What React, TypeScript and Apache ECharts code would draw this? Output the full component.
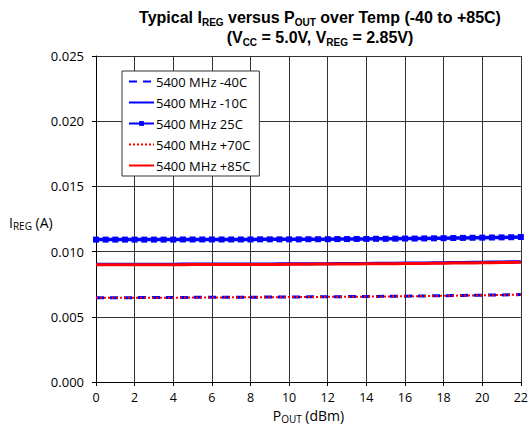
import React, { useEffect, useRef } from "react";
import * as echarts from "echarts";

const pout = [0, 0.5, 1, 1.5, 2, 2.5, 3, 3.5, 4, 4.5, 5, 5.5, 6, 6.5, 7, 7.5, 8, 8.5, 9, 9.5, 10, 10.5, 11, 11.5, 12, 12.5, 13, 13.5, 14, 14.5, 15, 15.5, 16, 16.5, 17, 17.5, 18, 18.5, 19, 19.5, 20, 20.5, 21, 21.5, 22];

const seriesNames = ["5400 MHz -40C", "5400 MHz -10C", "5400 MHz 25C", "5400 MHz +70C", "5400 MHz +85C"];

const iregM40 = [0.00647, 0.00647, 0.00647, 0.00647, 0.00647, 0.00648, 0.00648, 0.00648, 0.00648, 0.00648, 0.00649, 0.00649, 0.00649, 0.00649, 0.0065, 0.0065, 0.0065, 0.00651, 0.00651, 0.00651, 0.00652, 0.00652, 0.00653, 0.00653, 0.00654, 0.00654, 0.00655, 0.00655, 0.00656, 0.00656, 0.00657, 0.00658, 0.00658, 0.00659, 0.0066, 0.00661, 0.00662, 0.00663, 0.00664, 0.00665, 0.00666, 0.00667, 0.00668, 0.00669, 0.00671];
const iregM10 = [0.00903, 0.00903, 0.00903, 0.00903, 0.00903, 0.00903, 0.00903, 0.00903, 0.00903, 0.00904, 0.00904, 0.00904, 0.00904, 0.00904, 0.00904, 0.00905, 0.00905, 0.00905, 0.00905, 0.00906, 0.00906, 0.00906, 0.00907, 0.00907, 0.00907, 0.00908, 0.00908, 0.00909, 0.00909, 0.0091, 0.0091, 0.00911, 0.00912, 0.00912, 0.00913, 0.00914, 0.00915, 0.00916, 0.00917, 0.00918, 0.00919, 0.0092, 0.00921, 0.00922, 0.00923];
const ireg25 = [0.01092, 0.01092, 0.01092, 0.01092, 0.01092, 0.01092, 0.01092, 0.01092, 0.01092, 0.01093, 0.01093, 0.01093, 0.01093, 0.01093, 0.01093, 0.01093, 0.01093, 0.01094, 0.01094, 0.01094, 0.01094, 0.01094, 0.01095, 0.01095, 0.01095, 0.01096, 0.01096, 0.01097, 0.01097, 0.01098, 0.01098, 0.01099, 0.011, 0.011, 0.01101, 0.01102, 0.01103, 0.01104, 0.01105, 0.01106, 0.01107, 0.01108, 0.01109, 0.0111, 0.01112];
const iregP70 = [0.00646, 0.00646, 0.00646, 0.00646, 0.00646, 0.00647, 0.00647, 0.00647, 0.00647, 0.00647, 0.00648, 0.00648, 0.00648, 0.00648, 0.00649, 0.00649, 0.00649, 0.0065, 0.0065, 0.0065, 0.00651, 0.00651, 0.00652, 0.00652, 0.00653, 0.00653, 0.00654, 0.00654, 0.00655, 0.00656, 0.00656, 0.00657, 0.00658, 0.00658, 0.00659, 0.0066, 0.00661, 0.00662, 0.00663, 0.00664, 0.00665, 0.00666, 0.00667, 0.00669, 0.0067];
const iregP85 = [0.009, 0.009, 0.009, 0.009, 0.009, 0.009, 0.009, 0.009, 0.009, 0.009, 0.00901, 0.00901, 0.00901, 0.00901, 0.00901, 0.00901, 0.00902, 0.00902, 0.00902, 0.00902, 0.00903, 0.00903, 0.00903, 0.00904, 0.00904, 0.00904, 0.00905, 0.00905, 0.00906, 0.00906, 0.00907, 0.00907, 0.00908, 0.00909, 0.00909, 0.0091, 0.00911, 0.00912, 0.00912, 0.00913, 0.00914, 0.00915, 0.00916, 0.00917, 0.00918];

const xTicks = { min: 0, max: 22, interval: 2 };
const yTicks = { min: 0, max: 0.025, interval: 0.005 };

const FONT = "'Open Sans', 'Liberation Sans', Arial, sans-serif";
const TFONT = "'Liberation Sans', Arial, sans-serif";

export default function App() {
  const ref = useRef<HTMLDivElement>(null);
  useEffect(() => {
    const chart = echarts.init(ref.current!, null, { renderer: "svg" });
    const pair = (ys: number[]) => pout.map((x, i) => [x, ys[i]]);
    const titleRich = {
      s: { fontSize: 10, fontWeight: "bold", fontFamily: TFONT, color: "#000", lineHeight: 10, verticalAlign: "bottom" },
    };
    const nameRich = {
      n: { fontSize: 14, fontFamily: FONT, color: "#000", lineHeight: 17 },
      s: { fontSize: 10, fontFamily: FONT, color: "#000", lineHeight: 9, verticalAlign: "bottom" },
    };
    const symbolless = [true, true, false, true, true];
    chart.setOption({
      animation: false,
      backgroundColor: "#fff",
      textStyle: { fontFamily: FONT },
      title: {
        text: "Typical I{s|REG} versus P{s|OUT} over Temp (-40 to +85C)\n(V{s|CC} = 5.0V, V{s|REG} = 2.85V)",
        left: 315,
        top: 2,
        textAlign: "center",
        textStyle: { fontSize: 16, fontWeight: "bold", fontFamily: TFONT, color: "#000", lineHeight: 20, rich: titleRich },
      },
      legend: {
        orient: "vertical",
        left: 122,
        top: 71,
        padding: [0, 9, 0, 6],
        itemGap: 0,
        itemWidth: 25,
        itemHeight: 6,
        borderColor: "#333",
        borderWidth: 1,
        backgroundColor: "#fff",
        data: seriesNames.map((name, i) =>
          symbolless[i] ? { name, itemStyle: { opacity: 0 } } : { name }
        ),
        textStyle: { fontSize: 13, lineHeight: 21, color: "#000", fontFamily: FONT, padding: [0, 0, 0, -3] },
      },
      graphic: [
        {
          type: "text",
          left: 9,
          top: 215,
          style: { text: "{n|I}{s|REG}{n| (A)}", rich: nameRich },
        },
      ],
      grid: { left: 96, right: 10, top: 56, bottom: 51, containLabel: false },
      xAxis: {
        type: "value",
        ...xTicks,
        name: "{n|P}{s|OUT}{n| (dBm)}",
        nameLocation: "middle",
        nameGap: 25,
        nameTextStyle: { rich: nameRich },
        axisLine: { show: true, lineStyle: { color: "#000", width: 1 } },
        axisTick: { show: true, inside: false, length: 4, lineStyle: { color: "#000" } },
        axisLabel: { fontSize: 12.5, color: "#000", margin: 9, fontFamily: FONT },
        splitLine: { show: true, lineStyle: { color: "#333", width: 1 } },
      },
      yAxis: {
        type: "value",
        ...yTicks,
        axisLine: { show: true, lineStyle: { color: "#000", width: 1 } },
        axisTick: { show: true, inside: false, length: 4, lineStyle: { color: "#000" } },
        axisLabel: { fontSize: 13, color: "#000", margin: 12, fontFamily: FONT, formatter: (v: number) => v.toFixed(3) },
        splitLine: { show: true, lineStyle: { color: "#333", width: 1 } },
      },
      series: [
        {
          name: seriesNames[0], type: "line", data: pair(iregM40), symbol: "none",
          lineStyle: { color: "#0000ff", width: 3, type: [8, 6] }, itemStyle: { color: "#0000ff" },
        },
        {
          name: seriesNames[1], type: "line", data: pair(iregM10), symbol: "none",
          lineStyle: { color: "#0000ff", width: 3 }, itemStyle: { color: "#0000ff" },
        },
        {
          name: seriesNames[2], type: "line", data: pair(ireg25), symbol: "rect", symbolSize: 6, showSymbol: true,
          lineStyle: { color: "#0000ff", width: 3.5 }, itemStyle: { color: "#0000ff" },
        },
        {
          name: seriesNames[3], type: "line", data: pair(iregP70), symbol: "none",
          lineStyle: { color: "#ff0000", width: 2, type: [2, 2] }, itemStyle: { color: "#ff0000" },
        },
        {
          name: seriesNames[4], type: "line", data: pair(iregP85), symbol: "none",
          lineStyle: { color: "#ff0000", width: 3 }, itemStyle: { color: "#ff0000" },
        },
      ],
    });
    return () => chart.dispose();
  }, []);
  return <div ref={ref} style={{ position: "fixed", left: 0, top: 0, width: 531, height: 433 }} />;
}
